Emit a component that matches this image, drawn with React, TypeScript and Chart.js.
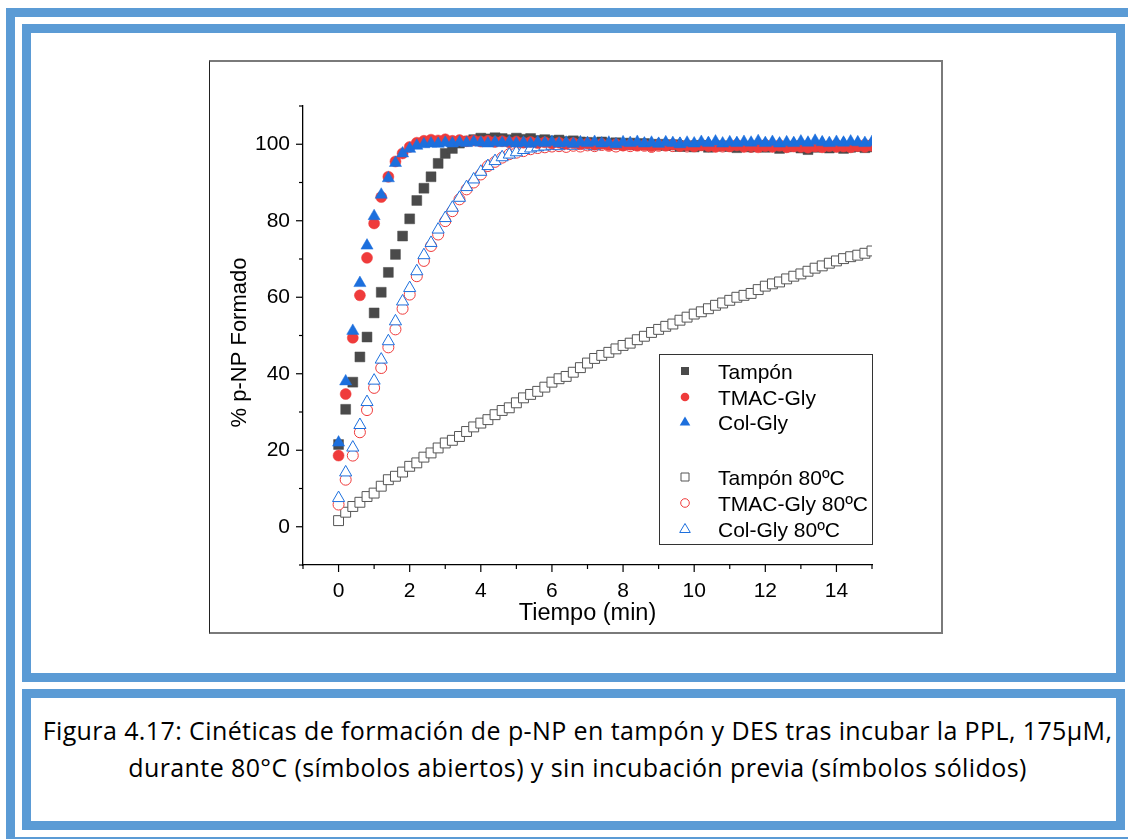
import React, { useEffect, useRef } from 'react';
import { Chart, registerables } from 'chart.js';

Chart.register(...registerables);

const TIME = [
  0, 0.2, 0.4, 0.6, 0.8, 1.0, 1.2, 1.4, 1.6, 1.8,
  2.0, 2.2, 2.4, 2.6, 2.8, 3.0, 3.2, 3.4, 3.6, 3.8,
  4.0, 4.2, 4.4, 4.6, 4.8, 5.0, 5.2, 5.4, 5.6, 5.8,
  6.0, 6.2, 6.4, 6.6, 6.8, 7.0, 7.2, 7.4, 7.6, 7.8,
  8.0, 8.2, 8.4, 8.6, 8.8, 9.0, 9.2, 9.4, 9.6, 9.8,
  10.0, 10.2, 10.4, 10.6, 10.8, 11.0, 11.2, 11.4, 11.6, 11.8,
  12.0, 12.2, 12.4, 12.6, 12.8, 13.0, 13.2, 13.4, 13.6, 13.8,
  14.0, 14.2, 14.4, 14.6, 14.8, 15.0,
];

const TAMPON = [
  21.5, 30.7, 37.8, 44.4, 49.6, 55.9, 61.3, 66.5, 71.2, 76.0,
  80.5, 85.3, 88.5, 91.5, 95.0, 97.6, 98.9, 100.3, 100.8, 101.2,
  101.6, 101.4, 101.7, 101.5, 101.2, 101.6, 101.3, 101.5, 101.0, 101.2,
  100.9, 101.1, 100.7, 100.9, 100.6, 100.5, 100.3, 100.6, 100.2, 100.4,
  100.1, 100.3, 99.9, 100.2, 99.8, 100.0, 99.7, 99.9, 99.4, 99.6,
  99.3, 99.7, 99.2, 99.5, 99.6, 99.4, 99.1, 99.5, 99.3, 99.6,
  99.2, 99.4, 98.9, 99.3, 99.5, 99.0, 98.6, 99.2, 99.4, 99.0,
  99.3, 98.9, 99.2, 99.4, 99.1, 99.3,
];

const TMAC_GLY = [
  18.6, 34.7, 49.4, 60.5, 70.3, 79.3, 86.2, 91.5, 95.5, 97.6,
  99.3, 100.4, 100.9, 101.2, 101.0, 101.3, 100.9, 101.1, 100.8, 101.0,
  100.7, 100.9, 100.6, 100.8, 100.5, 100.7, 100.4, 100.6, 100.3, 100.5,
  100.2, 100.4, 100.1, 100.3, 100.0, 100.2, 99.9, 100.1, 99.8, 100.0,
  99.7, 99.9, 99.6, 99.8, 99.5, 99.8, 99.6, 99.9, 99.5, 99.7,
  99.4, 99.7, 99.5, 99.3, 99.6, 99.4, 99.7, 99.3, 99.5, 99.2,
  99.5, 99.3, 99.6, 99.2, 99.4, 99.3, 99.1, 99.4, 99.2, 99.5,
  99.3, 99.4, 99.2, 99.5, 99.3, 99.6,
];

const COL_GLY = [
  22.0, 38.0, 51.2, 63.7, 73.5, 81.2, 86.8, 91.1, 95.1, 97.6,
  98.8, 99.6, 100.0, 100.2, 100.1, 100.4, 100.2, 100.5, 100.3, 100.6,
  100.4, 100.2, 100.5, 100.3, 100.6, 100.2, 100.4, 100.1, 100.5, 100.3,
  100.6, 100.2, 100.4, 100.1, 100.5, 100.3, 100.6, 100.2, 100.4, 100.0,
  100.5, 100.3, 100.6, 100.2, 100.4, 100.1, 100.5, 100.3, 100.0, 100.4,
  100.2, 100.6, 100.3, 100.7, 100.2, 100.5, 100.3, 100.6, 100.4, 100.8,
  100.3, 100.6, 100.2, 100.5, 100.3, 100.7, 100.4, 100.9, 100.5, 100.3,
  100.6, 100.4, 100.7, 100.5, 100.3, 100.6,
];

const TAMPON_80 = [
  1.6, 3.8, 5.3, 6.4, 7.9, 8.8, 10.6, 12.3, 13.2, 14.3,
  15.8, 16.7, 18.2, 19.3, 20.6, 21.9, 22.6, 23.6, 24.9, 26.1,
  27.1, 28.0, 29.3, 30.4, 31.1, 32.4, 33.7, 34.6, 35.4, 36.5,
  37.8, 38.7, 39.3, 40.4, 41.6, 42.8, 44.0, 44.8, 45.6, 46.5,
  47.4, 48.0, 48.9, 49.8, 50.8, 51.6, 52.4, 53.0, 54.0, 54.8,
  55.6, 56.2, 57.0, 57.9, 58.5, 59.2, 60.0, 60.5, 61.0, 62.0,
  62.9, 63.5, 64.0, 64.8, 65.5, 66.1, 66.8, 67.6, 68.2, 68.9,
  69.5, 70.1, 70.6, 71.0, 71.5, 72.1,
];

const TMAC_GLY_80 = [
  5.8, 12.3, 18.6, 24.7, 30.5, 36.3, 41.5, 46.9, 51.6, 57.0,
  60.7, 65.5, 69.5, 73.4, 76.4, 79.9, 82.5, 85.6, 88.2, 90.0,
  92.1, 94.3, 95.4, 96.5, 97.4, 97.8, 98.2, 98.7, 99.0, 99.2,
  99.4, 99.5, 99.3, 99.6, 99.4, 99.7, 99.5, 99.8, 99.6, 99.4,
  99.7, 99.5, 99.8, 99.6, 99.3, 99.6, 99.8, 99.5, 99.7, 99.4,
  99.6, 99.8, 99.5, 99.7, 99.4, 99.6, 99.8, 99.5, 99.3, 99.6,
  99.8, 99.5, 99.7, 99.4, 99.6, 99.8, 99.5, 99.7, 99.4, 99.6,
  99.8, 99.5, 99.7, 99.6, 99.8, 99.9,
];

const COL_GLY_80 = [
  7.5, 14.2, 20.7, 26.6, 32.6, 38.2, 43.7, 48.5, 53.7, 58.9,
  62.4, 66.8, 71.0, 74.2, 77.7, 80.7, 83.4, 86.0, 88.8, 90.8,
  92.8, 94.3, 95.6, 96.6, 97.3, 97.9, 98.5, 98.9, 99.2, 99.4,
  99.6, 99.5, 99.8, 99.6, 99.9, 99.7, 99.5, 99.8, 100.0, 99.7,
  99.9, 99.6, 99.8, 100.0, 99.7, 99.9, 99.6, 99.8, 100.1, 99.8,
  99.6, 99.9, 100.1, 99.8, 99.6, 99.9, 100.1, 99.8, 100.0, 99.7,
  99.9, 100.2, 99.9, 99.7, 100.0, 99.8, 100.1, 99.9, 100.2, 99.8,
  100.0, 100.2, 99.9, 100.1, 99.8, 100.0,
];

const SERIES_LABELS = ['Tampón', 'TMAC-Gly', 'Col-Gly', 'Tampón 80ºC', 'TMAC-Gly 80ºC', 'Col-Gly 80ºC'];
const X_TICK_LABELS = ['0', '2', '4', '6', '8', '10', '12', '14'];
const Y_TICK_LABELS = ['0', '20', '40', '60', '80', '100'];
const X_TITLE = 'Tiempo (min)';
const Y_TITLE = '% p-NP Formado';
const CAPTION_1 = 'Figura 4.17: Cinéticas de formación de p-NP en tampón y DES tras incubar la PPL, 175µM,';
const CAPTION_2 = 'durante 80°C (símbolos abiertos) y sin incubación previa (símbolos sólidos)';

const GRAY = '#4a4a4a';
const RED = '#ef3b3b';
const BLUE = '#1c6fdd';
const FONT = '"Liberation Sans", Arial, sans-serif';
const BLUE_FRAME = '#5b9bd5';

type Sym = { shape: 'rect' | 'circle' | 'triangle'; color: string; filled: boolean };
const LEGEND_SYMS: Sym[] = [
  { shape: 'rect', color: GRAY, filled: true },
  { shape: 'circle', color: RED, filled: true },
  { shape: 'triangle', color: BLUE, filled: true },
  { shape: 'rect', color: '#555', filled: false },
  { shape: 'circle', color: RED, filled: false },
  { shape: 'triangle', color: BLUE, filled: false },
];

function pts(ys: number[]) {
  return TIME.map((t, i) => ({ x: t, y: ys[i] }));
}

const tickMarksPlugin = {
  id: 'tickMarks',
  afterDraw(chart: any) {
    const { ctx, chartArea, scales } = chart;
    ctx.save();
    ctx.strokeStyle = '#000';
    ctx.lineWidth = 1.2;
    scales.x.ticks.forEach((t: any) => {
      const px = scales.x.getPixelForValue(t.value);
      const len = Math.abs(t.value % 2) === 0 ? 7 : 4;
      ctx.beginPath();
      ctx.moveTo(px, chartArea.bottom);
      ctx.lineTo(px, chartArea.bottom + len);
      ctx.stroke();
    });
    scales.y.ticks.forEach((t: any) => {
      const py = scales.y.getPixelForValue(t.value);
      const len = Math.abs(t.value % 20) === 0 ? 7 : 4;
      ctx.beginPath();
      ctx.moveTo(chartArea.left, py);
      ctx.lineTo(chartArea.left - len, py);
      ctx.stroke();
    });
    // rotated y-axis title
    ctx.fillStyle = '#000';
    ctx.font = `22px ${FONT}`;
    ctx.textAlign = 'center';
    ctx.textBaseline = 'middle';
    ctx.translate(29, (chartArea.top + chartArea.bottom) / 2 + 7);
    ctx.rotate(-Math.PI / 2);
    ctx.fillText(Y_TITLE, 0, 0);
    ctx.restore();
  },
};

const legendPlugin = {
  id: 'boxLegend',
  afterDraw(chart: any) {
    const { ctx, chartArea } = chart;
    const boxRight = chartArea.right + 1;
    const boxLeft = boxRight - 214;
    const boxTop = chartArea.top + 248;
    const boxH = 190;
    ctx.save();
    ctx.strokeStyle = '#333';
    ctx.lineWidth = 1;
    ctx.strokeRect(Math.round(boxLeft) + 0.5, Math.round(boxTop) + 0.5, 213, boxH);
    const rows = [17, 43, 68, 123, 149, 175];
    ctx.font = `21px ${FONT}`;
    ctx.textBaseline = 'alphabetic';
    ctx.textAlign = 'left';
    SERIES_LABELS.forEach((lab, i) => {
      const cy = boxTop + rows[i];
      const cx = boxLeft + 26;
      const s = LEGEND_SYMS[i];
      ctx.beginPath();
      if (s.shape === 'rect') {
        ctx.rect(cx - 4, cy - 4, 8, 8);
      } else if (s.shape === 'circle') {
        ctx.arc(cx, cy, 4.3, 0, Math.PI * 2);
      } else {
        ctx.moveTo(cx, cy - 5.5);
        ctx.lineTo(cx + 5.3, cy + 3.5);
        ctx.lineTo(cx - 5.3, cy + 3.5);
        ctx.closePath();
      }
      if (s.filled) {
        ctx.fillStyle = s.color;
        ctx.fill();
      } else {
        ctx.fillStyle = '#fff';
        ctx.fill();
        ctx.strokeStyle = s.color;
        ctx.lineWidth = 1;
        ctx.stroke();
      }
      ctx.fillStyle = '#000';
      ctx.fillText(lab, boxLeft + 59, cy + 7.5);
    });
    ctx.restore();
  },
};

export default function App() {
  const ref = useRef<HTMLCanvasElement>(null);

  useEffect(() => {
    if (!ref.current) return;
    const filled = (label: string, ys: number[], style: string, color: string, r: number) => ({
      label,
      data: pts(ys),
      showLine: false,
      pointStyle: style,
      pointRadius: r,
      pointHoverRadius: r,
      pointBackgroundColor: color,
      pointBorderColor: color,
      pointBorderWidth: 0.5,
    });
    const open = (label: string, ys: number[], style: string, color: string, r: number) => ({
      label,
      data: pts(ys),
      showLine: false,
      pointStyle: style,
      pointRadius: r,
      pointHoverRadius: r,
      pointBackgroundColor: '#fff',
      pointBorderColor: color,
      pointBorderWidth: 1,
    });

    const chart = new Chart(ref.current, {
      type: 'scatter',
      data: {
        datasets: [
          filled(SERIES_LABELS[2], COL_GLY, 'triangle', BLUE, 7),
          filled(SERIES_LABELS[1], TMAC_GLY, 'circle', RED, 5.5),
          filled(SERIES_LABELS[0], TAMPON, 'rect', GRAY, 7),
          open(SERIES_LABELS[5], COL_GLY_80, 'triangle', BLUE, 7),
          open(SERIES_LABELS[4], TMAC_GLY_80, 'circle', RED, 5.5),
          open(SERIES_LABELS[3], TAMPON_80, 'rect', '#555', 7),
        ] as any,
      },
      options: {
        responsive: false,
        animation: false,
        devicePixelRatio: 1,
        layout: { padding: { left: 0, right: 69, top: 44, bottom: 0 } },
        plugins: { legend: { display: false }, tooltip: { enabled: false } },
        scales: {
          x: {
            type: 'linear',
            min: -1,
            max: 15,
            afterFit: (s: any) => { s.height = 67; },
            ticks: {
              stepSize: 1,
              autoSkip: false,
              maxRotation: 0,
              color: '#000',
              padding: 7,
              font: { family: FONT, size: 21 },
              callback: (v: any) => {
                const s = String(v);
                return X_TICK_LABELS.includes(s) ? s : '';
              },
            },
            grid: { display: true, drawOnChartArea: false, drawTicks: true, tickLength: 7, tickColor: 'rgba(0,0,0,0)' },
            border: { display: true, color: '#000', width: 1.3 },
            title: { display: true, text: X_TITLE, color: '#000', font: { family: FONT, size: 23.5 }, padding: { top: 0, bottom: 4 } },
          },
          y: {
            type: 'linear',
            min: -10,
            max: 110,
            afterFit: (s: any) => { s.width = 92; },
            ticks: {
              stepSize: 10,
              autoSkip: false,
              color: '#000',
              padding: 6,
              font: { family: FONT, size: 21 },
              callback: (v: any) => {
                const s = String(v);
                return Y_TICK_LABELS.includes(s) ? s : '';
              },
            },
            grid: { display: true, drawOnChartArea: false, drawTicks: true, tickLength: 7, tickColor: 'rgba(0,0,0,0)' },
            border: { display: true, color: '#000', width: 1.3 },
            title: { display: false },
          },
        },
      },
      plugins: [tickMarksPlugin, legendPlugin],
    } as any);
    return () => chart.destroy();
  }, []);

  const frame = (left: number, top: number, width: number, height: number) => (
    <div
      style={{
        position: 'absolute',
        left,
        top,
        width,
        height,
        border: `9px solid ${BLUE_FRAME}`,
        boxSizing: 'border-box',
      }}
    />
  );

  return (
    <div
      style={{
        position: 'absolute',
        left: 0,
        top: 0,
        width: 1128,
        height: 839,
        overflow: 'hidden',
        background: '#fff',
      }}
    >
      {frame(6, 8, 1140, 838)}
      {frame(22, 24, 1103, 658)}
      {frame(22, 689, 1103, 141)}
      <div
        style={{
          position: 'absolute',
          left: 209,
          top: 60,
          width: 734,
          height: 574,
          boxSizing: 'border-box',
          borderTop: '2px solid #7a7a7a',
          borderRight: '2px solid #7a7a7a',
          borderBottom: '2px solid #7a7a7a',
          borderLeft: '1px solid #222',
        }}
      />
      <canvas
        ref={ref}
        width={730}
        height={570}
        style={{ position: 'absolute', left: 211, top: 62, width: 730, height: 570 }}
      />
      <div
        style={{
          position: 'absolute',
          left: 31,
          top: 712,
          width: 1085,
          paddingLeft: 8,
          boxSizing: 'border-box',
          textAlign: 'center',
          fontFamily: '"Open Sans", "Noto Sans", sans-serif',
          fontSize: 25,
          letterSpacing: '0.4px',
          lineHeight: '37px',
          color: '#000',
          whiteSpace: 'nowrap',
        }}
      >
        <div>{CAPTION_1}</div>
        <div>{CAPTION_2}</div>
      </div>
    </div>
  );
}
